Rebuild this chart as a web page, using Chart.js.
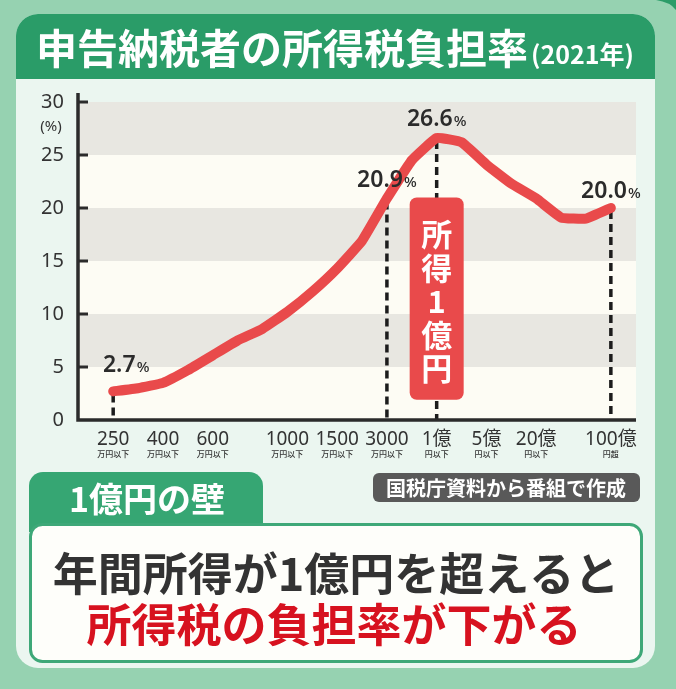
<!DOCTYPE html>
<html>
<head>
<meta charset="utf-8">
<script src="https://cdn.jsdelivr.net/npm/chart.js@4.4.1/dist/chart.umd.min.js"></script>
<style>
  html, body { margin: 0; padding: 0; background: #96d2b1; }
  canvas { display: block; }
</style>
</head>
<body>
<canvas id="chart" width="676" height="689"></canvas>
<script>
// 所得階級 (21区分) と所得税負担率 (%)
const categories = ['250', '300', '400', '500', '600', '700', '800', '1000', '1200', '1500', '2000', '3000', '5000', '1億', '2億', '5億', '10億', '20億', '50億', '100億', '100億超']
const rates = [2.7, 3.0, 3.5, 4.7, 6.1, 7.5, 8.6, 10.2, 12.1, 14.3, 16.9, 20.9, 24.5, 26.6, 26.2, 24.1, 22.3, 20.9, 19.1, 19.0, 20.0]

// x軸に表示する目盛り
const tickIndex = [0, 2, 4, 7, 9, 11, 13, 15, 17, 20]
const tickMain = ['250', '400', '600', '1000', '1500', '3000', '1億', '5億', '20億', '100億']
const tickSub = ['万円以下', '万円以下', '万円以下', '万円以下', '万円以下', '万円以下', '円以下', '円以下', '円以下', '円超']
const yTicks = [0, 5, 10, 15, 20, 25, 30]

// 数値ラベルと点線を付ける区分
const markedIndex = [0, 11, 13, 20]
const peakIndex = 13

const titleText = '申告納税者の所得税負担率'
const titleYear = '(2021年)'
const sourceText = '国税庁資料から番組で作成'
const tabText = '1億円の壁'
const line1 = '年間所得が1億円を超えると'
const line2 = '所得税の負担率が下がる'
const boxChars = ['所', '得', '1', '億', '円']

const JP = '"Noto Sans CJK JP", "Noto Sans", sans-serif'
const labelOffsets = [[13, -19], [0, -11], [0, -12], [0, -10]]

const rr = (ctx, x, y, w, h, r, fill, stroke, lw) => {
  ctx.beginPath()
  ctx.roundRect(x, y, w, h, r)
  if (fill) { ctx.fillStyle = fill; ctx.fill() }
  if (stroke) { ctx.strokeStyle = stroke; ctx.lineWidth = lw; ctx.stroke() }
}

const decor = {
  id: 'decor',
  beforeDraw(chart) {
    const { ctx, chartArea, scales: { y } } = chart
    ctx.save()
    ctx.fillStyle = '#96d2b1'
    ctx.fillRect(0, 0, chart.width, chart.height)
    // 右上の濃い緑
    ctx.beginPath()
    ctx.moveTo(656, 0)
    ctx.quadraticCurveTo(670, 2, 676, 10)
    ctx.lineTo(676, 0)
    ctx.closePath()
    ctx.fillStyle = '#2b9c68'
    ctx.fill()

    rr(ctx, 16, 14, 639, 654, 22, '#ebf6f0')
    rr(ctx, 16, 14, 639, 65, [22, 22, 0, 0], '#2a9c68')

    ctx.fillStyle = '#ffffff'
    ctx.textBaseline = 'middle'
    ctx.textAlign = 'left'
    ctx.font = `bold 41px ${JP}`
    ctx.fillText(titleText, 36, 48)
    const tw = ctx.measureText(titleText).width
    ctx.font = `bold 25px ${JP}`
    ctx.fillText(titleYear, 36 + tw + 3, 54)

    // 縞模様の背景
    for (let i = 0; i < yTicks.length - 1; i++) {
      const yb = y.getPixelForValue(yTicks[i])
      const yt = y.getPixelForValue(yTicks[i + 1])
      ctx.fillStyle = i % 2 === 0 ? '#fdfcf4' : '#e8e7e1'
      ctx.fillRect(chartArea.left, yt, chartArea.right - chartArea.left, yb - yt)
    }

    // 出典
    rr(ctx, 373, 473, 267, 29, 6, '#595959')
    ctx.fillStyle = '#ffffff'
    ctx.textAlign = 'center'
    ctx.font = `bold 20px ${JP}`
    ctx.fillText(sourceText, 506, 488)

    // 下部の囲み
    rr(ctx, 29, 472, 234, 60, [14, 14, 0, 0], '#36a673')
    rr(ctx, 30.5, 524.5, 611, 137, 12, '#fefefa', '#3ea878', 3)
    ctx.fillStyle = '#ffffff'
    ctx.font = `bold 34px ${JP}`
    ctx.fillText(tabText, 147, 499)
    ctx.font = `bold 45px ${JP}`
    ctx.fillStyle = '#333333'
    ctx.fillText(line1, 336, 574)
    ctx.fillStyle = '#d7121f'
    ctx.fillText(line2, 334, 625)
    ctx.restore()
  },
  beforeDatasetsDraw(chart) {
    const { ctx, chartArea, scales: { x, y } } = chart
    ctx.save()
    // 点線
    ctx.strokeStyle = '#1c1c1c'
    ctx.lineWidth = 3.5
    ctx.setLineDash([8, 5])
    markedIndex.forEach(i => {
      const px = x.getPixelForValue(i)
      ctx.beginPath()
      ctx.moveTo(px, y.getPixelForValue(rates[i]) + 3)
      ctx.lineTo(px, chartArea.bottom)
      ctx.stroke()
    })
    ctx.setLineDash([])
    // 軸
    ctx.strokeStyle = '#2b2b2b'
    ctx.lineWidth = 3.5
    ctx.beginPath()
    ctx.moveTo(chartArea.left, chartArea.top - 9)
    ctx.lineTo(chartArea.left, chartArea.bottom)
    ctx.lineTo(chartArea.right, chartArea.bottom)
    ctx.stroke()
    ctx.lineWidth = 3
    yTicks.forEach(v => {
      if (v === 0) return
      const py = y.getPixelForValue(v)
      ctx.beginPath()
      ctx.moveTo(chartArea.left, py)
      ctx.lineTo(chartArea.left + 10, py)
      ctx.stroke()
    })
    ctx.restore()
  },
  afterDatasetsDraw(chart) {
    const { ctx, scales: { x, y } } = chart
    ctx.save()
    // 「所得1億円」
    const cx = x.getPixelForValue(peakIndex)
    const top = y.getPixelForValue(21)
    const bottom = y.getPixelForValue(1.9)
    rr(ctx, cx - 27, top, 54, bottom - top, 7, '#e94a4b')
    ctx.fillStyle = '#ffffff'
    ctx.textAlign = 'center'
    ctx.textBaseline = 'middle'
    ctx.font = `bold 31px ${JP}`
    boxChars.forEach((c, k) => ctx.fillText(c, cx, top + 37 + k * 33.5))

    // 数値ラベル
    ctx.textAlign = 'left'
    ctx.textBaseline = 'alphabetic'
    ctx.fillStyle = '#2b2b2b'
    markedIndex.forEach((i, k) => {
      const num = rates[i].toFixed(1)
      ctx.font = '600 23px "Noto Sans", sans-serif'
      const nw = ctx.measureText(num).width
      ctx.font = '500 15px "Noto Sans", sans-serif'
      const pw = ctx.measureText('%').width
      const px = x.getPixelForValue(i) + labelOffsets[k][0] - (nw + pw + 1) / 2
      const py = y.getPixelForValue(rates[i]) + labelOffsets[k][1]
      ctx.font = '600 23px "Noto Sans", sans-serif'
      ctx.fillText(num, px, py)
      ctx.font = '500 15px "Noto Sans", sans-serif'
      ctx.fillText('%', px + nw + 1, py)
    })
    ctx.restore()
  },
  afterDraw(chart) {
    const { ctx, chartArea, scales: { x } } = chart
    ctx.save()
    ctx.fillStyle = '#333333'
    ctx.textAlign = 'center'
    ctx.textBaseline = 'middle'
    ctx.font = `500 8px ${JP}`
    tickIndex.forEach((i, k) => {
      ctx.fillText(tickSub[k], x.getPixelForValue(i), chartArea.bottom + 34)
    })
    ctx.font = '15px "Noto Sans", sans-serif'
    ctx.fillText('(%)', 51, 127)
    ctx.restore()
  }
}

new Chart(document.getElementById('chart'), {
  type: 'line',
  data: {
    datasets: [{
      label: '所得税負担率',
      data: rates.map((v, i) => ({ x: i, y: v })),
      borderColor: '#e94a4b',
      borderWidth: 10,
      borderCapStyle: 'round',
      borderJoinStyle: 'round',
      tension: 0.1,
      pointRadius: 0,
      fill: false
    }]
  },
  options: {
    responsive: false,
    animation: false,
    layout: { padding: { top: 102, right: 40, bottom: 229, left: 0 } },
    plugins: { legend: { display: false }, tooltip: { enabled: false } },
    scales: {
      x: {
        type: 'linear',
        min: -1.414,
        max: 21.01,
        grid: { display: false, drawTicks: false },
        border: { display: false },
        afterFit: (scale) => { scale.height = 40 },
        afterBuildTicks: (scale) => { scale.ticks = tickIndex.map(v => ({ value: v })) },
        ticks: {
          autoSkip: false,
          maxRotation: 0,
          padding: 8,
          color: '#333333',
          font: { family: '"Noto Sans", "Noto Sans CJK JP", sans-serif', size: 19 },
          callback: (value) => tickMain[tickIndex.indexOf(value)]
        }
      },
      y: {
        min: 0,
        max: 30,
        grid: { display: false, drawTicks: false },
        border: { display: false },
        afterFit: (scale) => { scale.width = 78 },
        afterBuildTicks: (scale) => { scale.ticks = yTicks.map(v => ({ value: v })) },
        ticks: {
          padding: 14,
          color: '#333333',
          font: { family: '"Noto Sans", sans-serif', size: 20 }
        }
      }
    }
  },
  plugins: [decor]
})
</script>
</body>
</html>
